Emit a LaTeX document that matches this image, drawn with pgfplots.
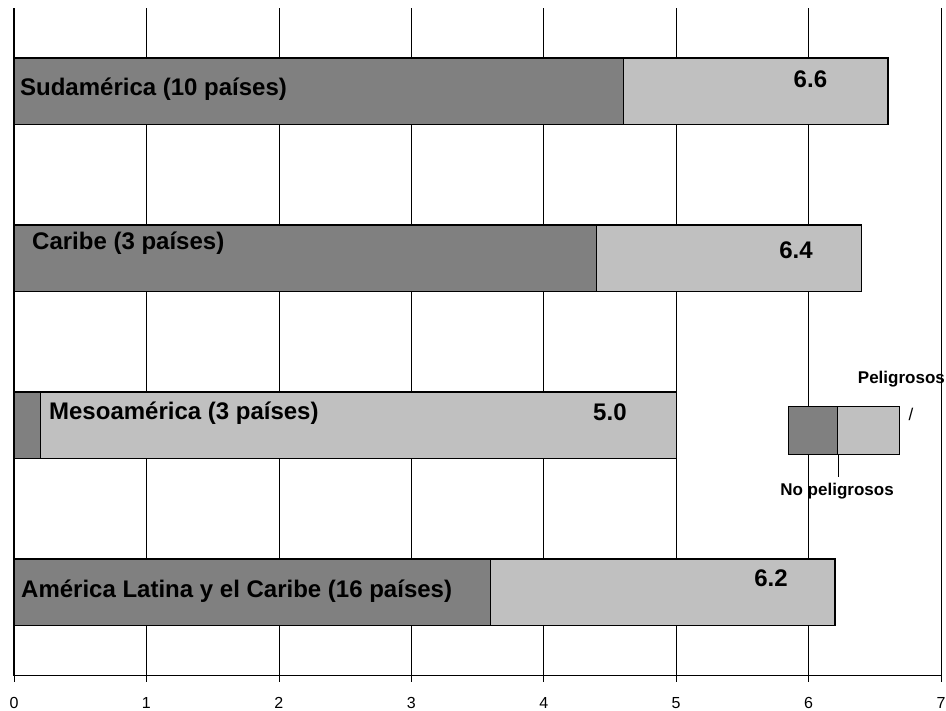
\documentclass[border=0pt]{standalone}
\usepackage{fontspec}
\setmainfont{Liberation Sans}
\usepackage{pgfplots}
\pgfplotsset{compat=1.18}
\definecolor{noPel}{HTML}{808080}
\definecolor{pel}{HTML}{C0C0C0}
\tikzset{
  region/.style={inner sep=0pt, anchor=base west, font=\bfseries\fontsize{24}{28}\selectfont},
  total/.style={inner sep=0pt, anchor=base, font=\bfseries\fontsize{24}{28}\selectfont},
  legtext/.style={inner sep=0pt, anchor=base, font=\bfseries\fontsize{17}{20}\selectfont},
}

\begin{document}
\begin{tikzpicture}[x=1pt,y=1pt]
\useasboundingbox (-14,-35) rectangle (932,676);
\begin{axis}[
  at={(0,0)}, anchor=south west,
  scale only axis, width=927pt, height=668pt,
  xmin=0, xmax=7, ymin=-0.5, ymax=3.5,
  xbar, bar width=0.4, bar shift=0pt,
  axis x line=bottom, axis y line=left,
  axis line style={-, black, line width=1pt},
  xtick={0,...,7}, ytick=\empty,
  xmajorgrids, major grid style={black, line width=0.6pt},
  tick align=outside, major tick length=6pt,
  tick style={black, line width=0.6pt},
  xticklabel style={font=\fontsize{16}{19}\selectfont, anchor=base, inner sep=0pt, yshift=-27pt},
  /pgf/number format/assume math mode=true,
  clip=false,
]
% total (peligrosos + no peligrosos)
\addplot[fill=pel, draw=black, line width=1.2pt] coordinates {(6.2,0) (5.0,1) (6.4,2) (6.6,3)};
% no peligrosos
\addplot[fill=noPel, draw=black, line width=1.2pt] coordinates {(3.6,0) (0.2,1) (4.4,2) (4.6,3)};

% region names
\node[region] at (axis cs:0.045,2.976) {Sudamérica (10 países)};
\node[region] at (axis cs:0.136,2.051) {Caribe (3 países)};
\node[region] at (axis cs:0.264,1.033) {Mesoamérica (3 países)};
\node[region] at (axis cs:0.053,-0.027) {América Latina y el Caribe (16 países)};

% totals
\node[total] at (axis cs:6.014,3.021) {6.6};
\node[total] at (axis cs:5.905,1.997) {6.4};
\node[total] at (axis cs:4.50,1.027) {5.0};
\node[total] at (axis cs:5.716,0.033) {6.2};

% legend
\filldraw[fill=noPel, draw=black, line width=1pt] (axis cs:5.845,0.829) rectangle (axis cs:6.222,1.111);
\filldraw[fill=pel, draw=black, line width=1pt] (axis cs:6.222,0.829) rectangle (axis cs:6.683,1.111);
\draw[line width=0.8pt] (axis cs:6.222,0.829) -- (axis cs:6.222,0.692);
\node[legtext] at (axis cs:6.701,1.254) {Peligrosos};
\node[legtext, font=\fontsize{17}{20}\selectfont] at (axis cs:6.773,1.027) {/};
\node[legtext] at (axis cs:6.215,0.578) {No peligrosos};
\end{axis}
\end{tikzpicture}
\end{document}
